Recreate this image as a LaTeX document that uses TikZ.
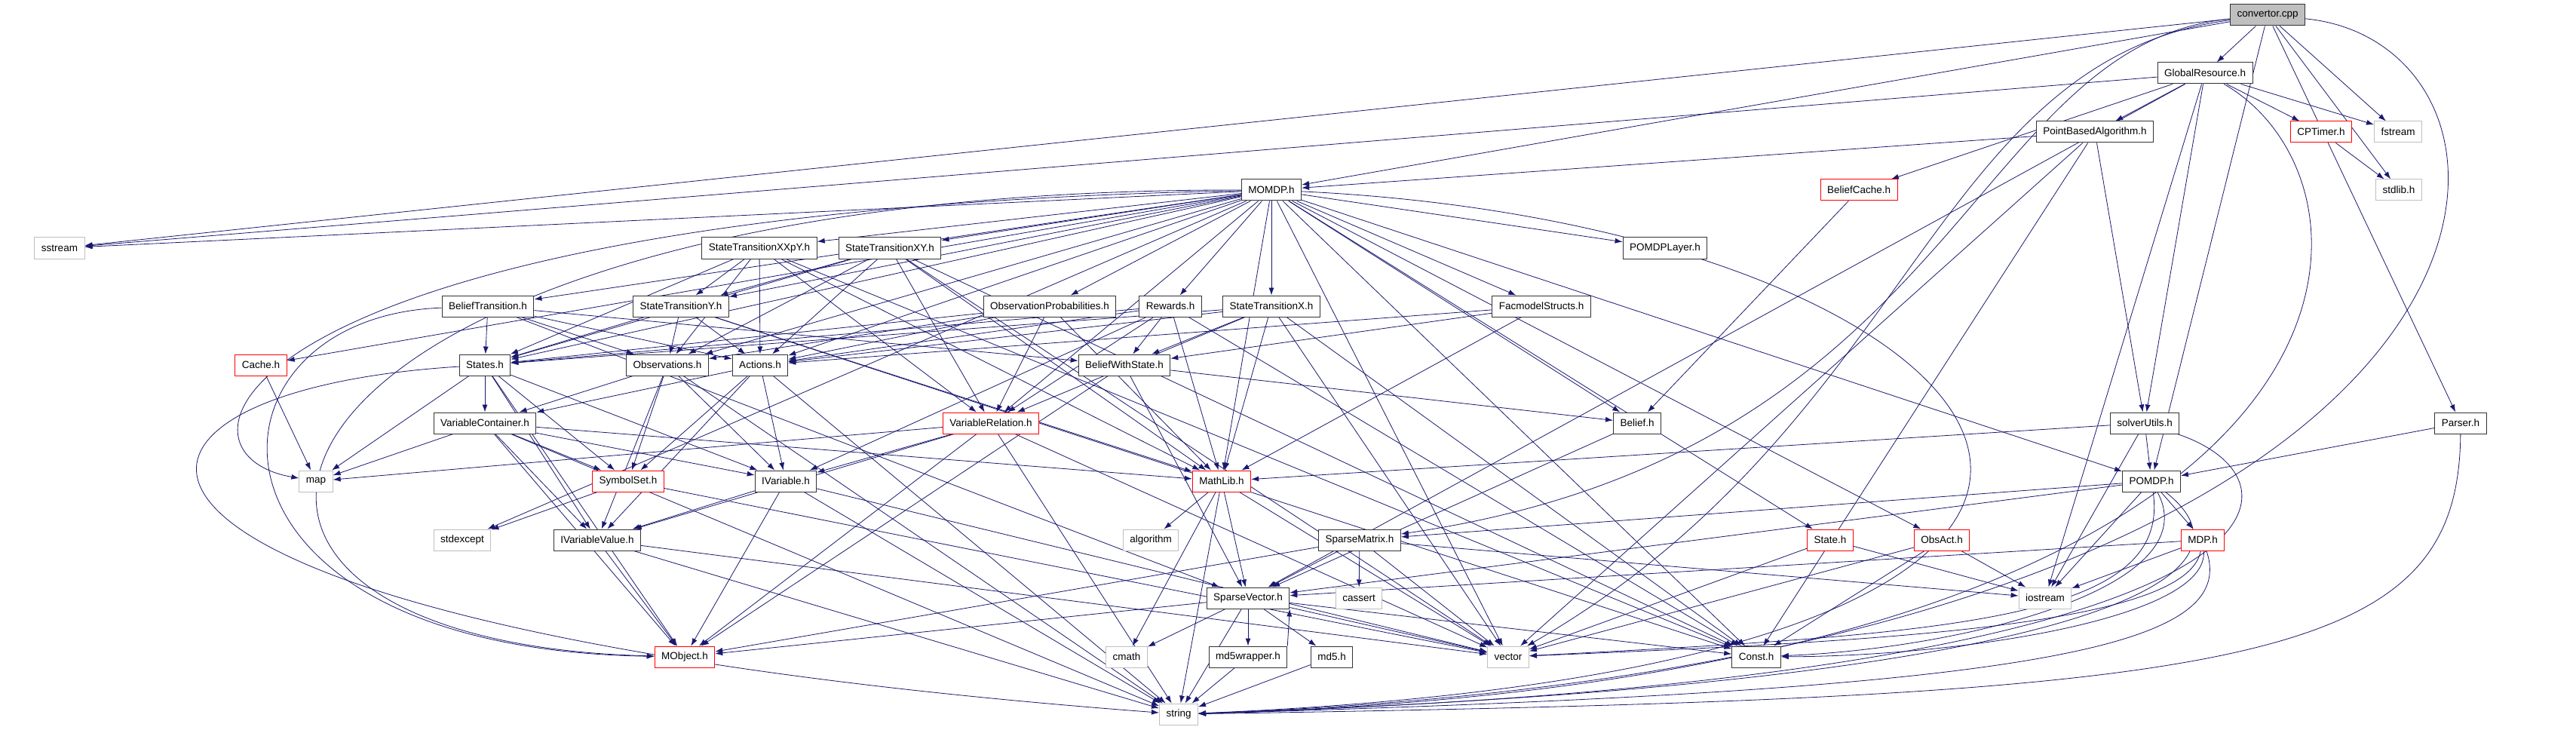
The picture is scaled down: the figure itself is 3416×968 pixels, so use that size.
\documentclass[tikz,border=0pt]{standalone}
\usepackage{fontspec}
\setmainfont{Liberation Sans}
\usetikzlibrary{arrows.meta,backgrounds}
\definecolor{edgeblue}{HTML}{191970}
\definecolor{truncred}{HTML}{FF0000}
\definecolor{sysgray}{HTML}{BFBFBF}
\tikzset{
  file/.style={draw=black!80, line width=1pt, fill=white, rectangle, minimum height=28pt,
    inner xsep=9pt, inner ysep=0pt, font=\fontsize{13.5}{15}\selectfont},
  trunc/.style={file, draw=truncred},
  sys/.style={file, draw=sysgray},
  root/.style={file, fill=sysgray},
  incl/.style={draw=edgeblue, line width=0.8pt, -{Latex[length=10pt,width=7pt]}}
}
\begin{document}
\begin{tikzpicture}[x=1pt,y=-1pt]
\useasboundingbox (0,0) rectangle (3416,968);
% files
\node[root] (conv) at (3007,20) {convertor.cpp};
\node[file] (glob) at (2924,97) {GlobalResource.h};
\node[file] (pba) at (2778,175) {PointBasedAlgorithm.h};
\node[trunc] (cptimer) at (3078,175) {CPTimer.h};
\node[sys] (fstream) at (3180,175) {fstream};
\node[sys] (stdlib) at (3181,252) {stdlib.h};
\node[file] (momdp) at (1686,252) {MOMDP.h};
\node[trunc] (bcache) at (2465,252) {BeliefCache.h};
\node[sys] (sstream) at (79,329) {sstream};
\node[file] (stxxpy) at (1007,329) {StateTransitionXXpY.h};
\node[file] (stxy) at (1180,329) {StateTransitionXY.h};
\node[file] (layer) at (2208,329) {POMDPLayer.h};
\node[file] (btrans) at (647,406) {BeliefTransition.h};
\node[file] (sty) at (903,406) {StateTransitionY.h};
\node[file] (obsprob) at (1392,406) {ObservationProbabilities.h};
\node[file] (rewards) at (1552,406) {Rewards.h};
\node[file] (stx) at (1686,406) {StateTransitionX.h};
\node[file] (facmodel) at (2044,406) {FacmodelStructs.h};
\node[trunc] (cache) at (346,484) {Cache.h};
\node[file] (states) at (643,484) {States.h};
\node[file] (observ) at (885,484) {Observations.h};
\node[file] (actions) at (1008,484) {Actions.h};
\node[file] (bws) at (1491,484) {BeliefWithState.h};
\node[file] (varcont) at (643,561) {VariableContainer.h};
\node[trunc] (varrel) at (1314,561) {VariableRelation.h};
\node[file] (belief) at (2171,561) {Belief.h};
\node[file] (solver) at (2844,561) {solverUtils.h};
\node[file] (parser) at (3263,561) {Parser.h};
\node[sys] (map) at (419,638) {map};
\node[trunc] (symset) at (833,638) {SymbolSet.h};
\node[file] (ivar) at (1042,638) {IVariable.h};
\node[trunc] (mathlib) at (1620,638) {MathLib.h};
\node[file] (pomdp) at (2853,638) {POMDP.h};
\node[sys] (stdexcept) at (613,716) {stdexcept};
\node[file] (ivarval) at (792,716) {IVariableValue.h};
\node[sys] (algorithm) at (1526,716) {algorithm};
\node[file] (smatrix) at (1803,716) {SparseMatrix.h};
\node[trunc] (state) at (2427,716) {State.h};
\node[trunc] (obsact) at (2575,716) {ObsAct.h};
\node[trunc] (mdp) at (2921,716) {MDP.h};
\node[file] (svector) at (1655,793) {SparseVector.h};
\node[sys] (cassert) at (1802,793) {cassert};
\node[sys] (iostream) at (2712,793) {iostream};
\node[trunc] (mobject) at (908,871) {MObject.h};
\node[sys] (cmath) at (1494,871) {cmath};
\node[file] (md5wrap) at (1655,871) {md5wrapper.h};
\node[file] (md5) at (1766,871) {md5.h};
\node[sys] (vector) at (2000,871) {vector};
\node[file] (const) at (2329,871) {Const.h};
\node[sys] (string) at (1563,947) {string};
% includes
\begin{pgfonlayer}{background}
\foreach \t in {glob,fstream,stdlib,momdp,sstream,pomdp,parser}
\draw[incl] (conv) -- (\t);
\foreach \t in {sstream,bcache,pba,cptimer,fstream,solver,iostream,svector}
\draw[incl] (glob) -- (\t);
\foreach \t in {momdp,solver,vector,const}
\draw[incl] (pba) -- (\t);
\draw[incl] (cptimer) -- (stdlib);
\draw[incl] (bcache) -- (belief);
\draw[incl] (parser) -- (pomdp);
\foreach \t in {pomdp,iostream,mathlib}
\draw[incl] (solver) -- (\t);
\foreach \t in {smatrix,svector,iostream,mdp}
\draw[incl] (pomdp) -- (\t);
\foreach \t in {svector,iostream}
\draw[incl] (mdp) -- (\t);
\foreach \t in {iostream,const,vector}
\draw[incl] (obsact) -- (\t);
\foreach \t in {vector,iostream}
\draw[incl] (state) -- (\t);
\foreach \t in {svector,cassert,vector,iostream,mobject}
\draw[incl] (smatrix) -- (\t);
\foreach \t in {md5wrap,cmath,string,vector,const,mobject,md5}
\draw[incl] (svector) -- (\t);
\draw[incl] (md5wrap.north east) -- (svector.south east);
\draw[incl] (md5wrap) -- (string);
\draw[incl] (md5) -- (string);
\foreach \t in {algorithm,svector,cmath,string,vector}
\draw[incl] (mathlib) -- (\t);
\foreach \t in {ivarval,ivar,mobject,string,vector,map}
\draw[incl] (varrel) -- (\t);
\foreach \t in {ivarval,mobject,string,vector}
\draw[incl] (ivar) -- (\t);
\foreach \t in {mobject,string,vector}
\draw[incl] (ivarval) -- (\t);
\foreach \t in {stdexcept,vector}
\draw[incl] (symset) -- (\t);
\foreach \t in {map,symset,ivar,ivarval,mobject,string,mathlib}
\draw[incl] (varcont) -- (\t);
\foreach \t in {varcont,symset,map,ivar,ivarval,mobject}
\draw[incl] (states) -- (\t);
\foreach \t in {varcont,symset,ivar,ivarval,string}
\draw[incl] (observ) -- (\t);
\foreach \t in {varcont,symset,ivar,ivarval,string}
\draw[incl] (actions) -- (\t);
\draw[incl] (cache) -- (map);
\foreach \t in {states,observ,actions,bws,svector}
\draw[incl] (btrans) -- (\t);
\foreach \t in {states,observ,actions,sty,varrel,mathlib,const}
\draw[incl] (stxxpy) -- (\t);
\foreach \t in {states,observ,actions,sty,varrel,mathlib,const,vector}
\draw[incl] (stxy) -- (\t);
\foreach \t in {states,observ,actions,mathlib,const}
\draw[incl] (sty) -- (\t);
\foreach \t in {states,observ,actions,varrel,mathlib}
\draw[incl] (obsprob) -- (\t);
\foreach \t in {states,actions,bws,varrel,mathlib,const,ivar}
\draw[incl] (rewards) -- (\t);
\foreach \t in {states,actions,bws,varrel,mathlib,const,vector}
\draw[incl] (stx) -- (\t);
\foreach \t in {actions,bws,mathlib}
\draw[incl] (facmodel) -- (\t);
\foreach \t in {belief,svector,mobject}
\draw[incl] (bws) -- (\t);
\draw[incl] (belief) -- (svector);
\foreach \t in {sstream,cache,btrans,states,stxxpy,stxy,sty,observ,actions,obsprob,rewards,stx,layer,facmodel,belief,mathlib,varrel,stdexcept,vector,const,state,obsact,pomdp}
\draw[incl] (momdp) -- (\t);
% long detours
\draw[incl] (conv) .. controls (3420,60) and (3420,880) .. (string);
\draw[incl] (glob) .. controls (3190,250) and (3190,900) .. (string);
\draw[incl] (parser) .. controls (3260,880) and (3000,925) .. (string);
\draw[incl] (momdp) .. controls (2700,300) and (3150,880) .. (string);
\draw[incl] (solver) .. controls (3080,640) and (3060,900) .. (string);
\draw[incl] (pomdp) .. controls (3010,760) and (2800,905) .. (string);
\draw[incl] (pomdp) .. controls (2880,820) and (2600,840) .. (vector);
\draw[incl] (pomdp) .. controls (2930,780) and (2600,860) .. (const);
\draw[incl] (mdp) .. controls (2900,830) and (2500,850) .. (vector);
\draw[incl] (mdp) .. controls (2930,820) and (2600,870) .. (const);
\draw[incl] (mdp) .. controls (2970,860) and (2700,915) .. (string);
\draw[incl] (conv) .. controls (2560,80) and (2540,560) .. (vector);
\draw[incl] (conv) .. controls (2610,60) and (2600,600) .. (smatrix);
\draw[incl] (states) .. controls (60,520) and (20,830) .. (string);
\draw[incl] (momdp) .. controls (300,250) and (100,850) .. (mobject);
\draw[incl] (btrans) .. controls (250,420) and (230,860) .. (mobject);
\draw[incl] (momdp) .. controls (300,280) and (200,600) .. (map);
\end{pgfonlayer}
\end{tikzpicture}
\end{document}
